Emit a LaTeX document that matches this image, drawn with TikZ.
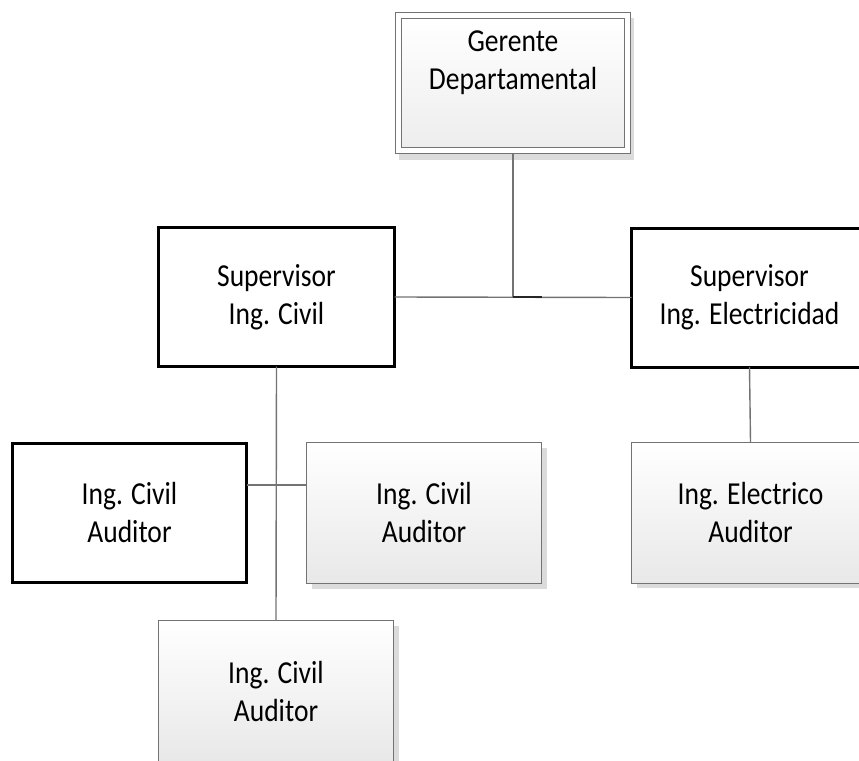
\documentclass[tikz,border=0pt]{standalone}
\usepackage{fontspec}
\setmainfont[FakeStretch=0.86]{Carlito}
\usetikzlibrary{shadows}

\begin{document}
\begin{tikzpicture}[x=1bp,y=-1bp,
  every node/.style={font=\fontsize{32bp}{38bp}\selectfont, align=center, inner sep=0pt, outer sep=0pt, text=black},
  boldbox/.style={draw=black, line width=3bp, fill=white, minimum width=#1, minimum height=139bp},
  boldbox/.default=236bp,
  softbox/.style={draw=black!55, line width=1bp, top color=white, bottom color=black!9,
    minimum width=235bp, minimum height=141bp,
    drop shadow={shadow xshift=5bp, shadow yshift=-5bp, fill=black!14, opacity=1}},
  link/.style={draw=black!55, line width=1.4bp}
]
\useasboundingbox (0,0) rectangle (859,761);
\clip (0,0) rectangle (859,761);

% top manager: framed box with an inner border
\node[draw=black!55, line width=1bp, fill=white, minimum width=235bp, minimum height=141bp,
  drop shadow={shadow xshift=3bp, shadow yshift=-6bp, fill=black!14, opacity=1}] (gerente) at (513,83) {};
\node[draw=black!55, line width=1bp, top color=white, bottom color=black!7,
  minimum width=223bp, minimum height=129bp] (gerenteIn) at (gerente.center) {};
\node[yshift=20bp] (gerenteTxt) at (gerente.center) {Gerente\\Departamental};

% supervisors
\node[boldbox] (supC) at (276.5,297) {Supervisor\\Ing. Civil};
\node[boldbox] (supE) at (749.5,297.5) {Supervisor\\Ing. Electricidad};

% auditors
\node[boldbox=234bp] (audL) at (129.5,513) {Ing. Civil\\Auditor};
\node[softbox] (audM) at (424,513) {Ing. Civil\\Auditor};
\node[softbox, minimum width=238bp] (audE) at (750.5,512.5) {Ing. Electrico\\Auditor};
\node[softbox] (audB) at (276,691) {Ing. Civil\\Auditor};

% connectors
\coordinate (j1) at (gerente.south |- supC.east);
\coordinate (j1r) at (542,297);
\coordinate (j2) at (supC.south |- 0,485);

\path[link] (gerente.south) -- (j1);
\path[link] (supC.east) -- (supE.west);
\draw[black!85, line width=1.6bp] (j1) -- (j1r);
\path[link] (supC.south) -- (audB.north);
\path[link] (audL.east |- j2) -- (audM.west |- j2);
\path[link] (supE.south) -- (audE.north);
\end{tikzpicture}
\end{document}
